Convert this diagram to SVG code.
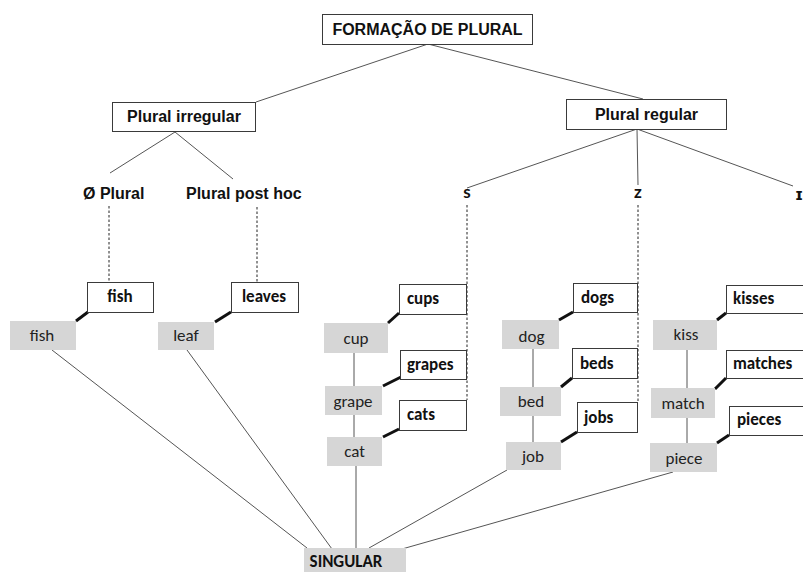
<svg xmlns="http://www.w3.org/2000/svg" width="803" height="572" viewBox="0 0 803 572">
<style>
.bg{fill:#ffffff}
.wbox{fill:#ffffff;stroke:#3a3a3a;stroke-width:1}
.gbox{fill:#d6d6d6;stroke:none}
.ar{font-family:"Liberation Sans",Arial,sans-serif;font-weight:bold;font-size:16px;fill:#111}
.cb{font-family:Carlito,Lato,"Open Sans",sans-serif;font-weight:bold;font-size:17px;fill:#111}
.cr{font-family:Carlito,Lato,"Open Sans",sans-serif;font-size:17px;fill:#222}
.ph{font-family:Lato,"DejaVu Sans",sans-serif;font-weight:bold;font-size:17px;fill:#111}
.phi{font-family:"DejaVu Sans",sans-serif;font-weight:bold;font-size:15px;fill:#111}
.thin{stroke:#555;stroke-width:1;fill:none}
.dash{stroke:#222;stroke-width:1;stroke-dasharray:2.5,2;fill:none}
.thick{stroke:#111;stroke-width:3;fill:none}
</style>
<rect class="bg" x="0" y="0" width="803" height="572"/>
<g id="connectors">
  <line class="thin" x1="428" y1="44" x2="256" y2="102"/>
  <line class="thin" x1="428" y1="44" x2="643" y2="99"/>
  <line class="thin" x1="175" y1="132" x2="110" y2="173"/>
  <line class="thin" x1="175" y1="132" x2="233" y2="179"/>
  <line class="thin" x1="637" y1="129" x2="467" y2="188"/>
  <line class="thin" x1="637" y1="129" x2="638" y2="185"/>
  <line class="thin" x1="637" y1="129" x2="793" y2="186"/>
  <line class="dash" x1="109" y1="206" x2="109" y2="285"/>
  <line class="dash" x1="257" y1="207" x2="257" y2="285"/>
  <line class="dash" x1="467" y1="205" x2="467" y2="400"/>
  <line class="dash" x1="638" y1="205" x2="638" y2="402"/>
  <line class="thick" x1="76" y1="321" x2="88" y2="312"/>
  <line class="thick" x1="215" y1="322" x2="231" y2="312"/>
  <line class="thick" x1="388" y1="323" x2="399" y2="313"/>
  <line class="thick" x1="383" y1="386" x2="401" y2="377"/>
  <line class="thick" x1="383" y1="437" x2="399" y2="429"/>
  <line class="thick" x1="559" y1="320" x2="573" y2="312"/>
  <line class="thick" x1="561" y1="387" x2="572" y2="378"/>
  <line class="thick" x1="561" y1="442" x2="577" y2="432"/>
  <line class="thick" x1="717" y1="320" x2="726" y2="313"/>
  <line class="thick" x1="715" y1="389" x2="726" y2="378"/>
  <line class="thick" x1="717" y1="443" x2="729" y2="435"/>
  <line class="thin" x1="354" y1="353" x2="354" y2="386"/>
  <line class="thin" x1="354" y1="415" x2="354" y2="437"/>
  <line class="thin" x1="533" y1="349" x2="533" y2="387"/>
  <line class="thin" x1="533" y1="416" x2="533" y2="442"/>
  <line class="thin" x1="687" y1="350" x2="687" y2="388"/>
  <line class="thin" x1="687" y1="418" x2="687" y2="443"/>
  <line class="thin" x1="52" y1="350" x2="307" y2="548"/>
  <line class="thin" x1="187" y1="350" x2="332" y2="549"/>
  <line class="thin" x1="356" y1="466" x2="356" y2="548"/>
  <line class="thin" x1="507" y1="470" x2="369" y2="548"/>
  <line class="thin" x1="673" y1="472" x2="402" y2="549"/>
</g>
<g id="formacao"><rect class="wbox" x="322.5" y="14.5" width="210" height="30"/><text class="ar" x="427.5" y="35" text-anchor="middle">FORMAÇÃO DE PLURAL</text></g>
<g id="plural-irregular"><rect class="wbox" x="112.5" y="102.5" width="143" height="29"/><text class="ar" x="184" y="122" text-anchor="middle">Plural irregular</text></g>
<g id="plural-regular"><rect class="wbox" x="566.5" y="99.5" width="160" height="30"/><text class="ar" x="646.5" y="119.5" text-anchor="middle">Plural regular</text></g>
<g id="zero-plural"><text class="ar" x="83" y="199">Ø Plural</text></g>
<g id="plural-post-hoc"><text class="ar" x="186" y="199">Plural post hoc</text></g>
<g id="s"><text class="ph" x="467" y="198" text-anchor="middle">s</text></g>
<g id="z"><text class="ph" x="638" y="198" text-anchor="middle">z</text></g>
<g id="i"><text class="phi" x="799" y="200" text-anchor="middle">ɪ</text></g>
<g id="fish-pl"><rect class="wbox" x="87.5" y="282.5" width="66" height="30"/><text class="cb" x="120" y="302" text-anchor="middle">fish</text></g>
<g id="fish-sg"><rect class="gbox" x="10" y="321" width="66" height="29"/><text class="cr" x="42" y="341" text-anchor="middle">fish</text></g>
<g id="leaves"><rect class="wbox" x="231.5" y="282.5" width="67" height="30"/><text class="cb" x="264" y="302" text-anchor="middle">leaves</text></g>
<g id="leaf"><rect class="gbox" x="158" y="322" width="56" height="28"/><text class="cr" x="186" y="341" text-anchor="middle">leaf</text></g>
<g id="cups"><rect class="wbox" x="399.5" y="284.5" width="67" height="30"/><text class="cb" x="407" y="304">cups</text></g>
<g id="cup"><rect class="gbox" x="324" y="323" width="64" height="30"/><text class="cr" x="356" y="344" text-anchor="middle">cup</text></g>
<g id="grapes"><rect class="wbox" x="400.5" y="350.5" width="66" height="29"/><text class="cb" x="407" y="370">grapes</text></g>
<g id="grape"><rect class="gbox" x="325" y="386" width="57" height="29"/><text class="cr" x="353" y="407" text-anchor="middle">grape</text></g>
<g id="cats"><rect class="wbox" x="399.5" y="400.5" width="67" height="30"/><text class="cb" x="407" y="420">cats</text></g>
<g id="cat"><rect class="gbox" x="327" y="437" width="55" height="29"/><text class="cr" x="354.5" y="457" text-anchor="middle">cat</text></g>
<g id="dogs"><rect class="wbox" x="573.5" y="283.5" width="64" height="29"/><text class="cb" x="581" y="303">dogs</text></g>
<g id="dog"><rect class="gbox" x="502" y="320" width="57" height="29"/><text class="cr" x="531.5" y="342" text-anchor="middle">dog</text></g>
<g id="beds"><rect class="wbox" x="572.5" y="348.5" width="65" height="30"/><text class="cb" x="580" y="369">beds</text></g>
<g id="bed"><rect class="gbox" x="500" y="387" width="61" height="29"/><text class="cr" x="531" y="407" text-anchor="middle">bed</text></g>
<g id="jobs"><rect class="wbox" x="577.5" y="402.5" width="60" height="30"/><text class="cb" x="584" y="423">jobs</text></g>
<g id="job"><rect class="gbox" x="506" y="442" width="55" height="28"/><text class="cr" x="533" y="462" text-anchor="middle">job</text></g>
<g id="kisses"><rect class="wbox" x="726.5" y="285.5" width="90" height="28"/><text class="cb" x="733" y="304">kisses</text></g>
<g id="kiss"><rect class="gbox" x="653" y="320" width="64" height="30"/><text class="cr" x="686" y="340" text-anchor="middle">kiss</text></g>
<g id="matches"><rect class="wbox" x="726.5" y="350.5" width="90" height="28"/><text class="cb" x="733" y="369">matches</text></g>
<g id="match"><rect class="gbox" x="651" y="388" width="64" height="30"/><text class="cr" x="683" y="409" text-anchor="middle">match</text></g>
<g id="pieces"><rect class="wbox" x="729.5" y="406.5" width="90" height="29"/><text class="cb" x="737" y="425">pieces</text></g>
<g id="piece"><rect class="gbox" x="650" y="443" width="67" height="29"/><text class="cr" x="684" y="464" text-anchor="middle">piece</text></g>
<g id="singular"><rect class="gbox" x="304" y="548" width="102" height="30"/><text class="cb" x="346" y="567" text-anchor="middle">SINGULAR</text></g>
</svg>
